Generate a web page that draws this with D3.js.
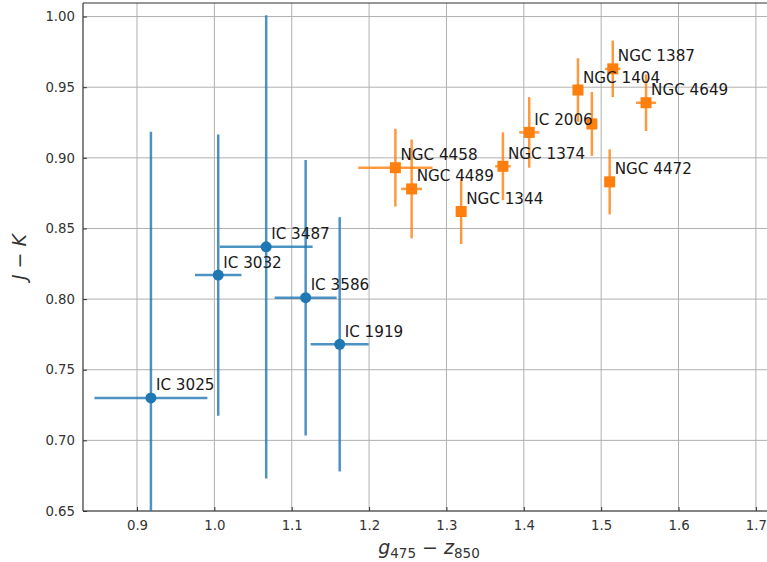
<!DOCTYPE html>
<html>
<head>
<meta charset="utf-8">
<script src="https://cdn.jsdelivr.net/npm/d3@7"></script>
<style>
  html, body { margin: 0; padding: 0; background: #fff; }
  svg { display: block; font-family: "DejaVu Sans", sans-serif; }
</style>
</head>
<body>
<svg id="chart" width="767" height="562"></svg>
<script>
// Colour–colour data: g475 − z850 against J − K
const icNames   = ["IC 3025", "IC 3032", "IC 3487", "IC 3586", "IC 1919"];
const icGZ      = [0.918, 1.005, 1.067, 1.118, 1.162];
const icGZErr   = [0.073, 0.030, 0.060, 0.040, 0.0375];
const icJK      = [0.730, 0.817, 0.837, 0.801, 0.768];
const icJKErr   = [0.1885, 0.0995, 0.164, 0.0975, 0.090];

const ngcNames  = ["NGC 4458", "NGC 4489", "NGC 1344", "NGC 1374", "IC 2006", "NGC 1404", "", "NGC 4472", "NGC 1387", "NGC 4649"];
const ngcGZ     = [1.234, 1.255, 1.319, 1.373, 1.407, 1.470, 1.488, 1.511, 1.515, 1.558];
const ngcGZErr  = [0.048, 0.0135, 0.006, 0.010, 0.013, 0.006, 0.005, 0.005, 0.010, 0.013];
const ngcJK     = [0.893, 0.878, 0.862, 0.894, 0.918, 0.948, 0.924, 0.883, 0.963, 0.939];
const ngcJKErr  = [0.0275, 0.035, 0.023, 0.024, 0.025, 0.0225, 0.0226, 0.023, 0.020, 0.020];

const xTicks = [0.9, 1.0, 1.1, 1.2, 1.3, 1.4, 1.5, 1.6, 1.7];
const yTicks = [0.65, 0.70, 0.75, 0.80, 0.85, 0.90, 0.95, 1.00];

const W = 767, H = 562;
const margin = { left: 83, top: 3, right: -8, bottom: 51 };
const plotW = W - margin.left - margin.right;
const plotH = H - margin.top - margin.bottom;

const x = d3.scaleLinear().domain([0.8302, 1.7247]).range([0, plotW]);
const y = d3.scaleLinear().domain([0.65, 1.0096]).range([plotH, 0]);

const svg = d3.select("#chart");
const g = svg.append("g").attr("transform", `translate(${margin.left},${margin.top})`);

g.append("clipPath").attr("id", "plot-clip")
  .append("rect").attr("width", plotW).attr("height", plotH);

// grid
g.append("g").selectAll("line").data(xTicks).join("line")
  .attr("x1", d => x(d)).attr("x2", d => x(d))
  .attr("y1", 0).attr("y2", plotH)
  .attr("stroke", "#b0b0b0").attr("stroke-width", 1);
g.append("g").selectAll("line").data(yTicks).join("line")
  .attr("x1", 0).attr("x2", plotW)
  .attr("y1", d => y(d)).attr("y2", d => y(d))
  .attr("stroke", "#b0b0b0").attr("stroke-width", 1);

// axes with inward ticks
const xAxis = g.append("g").attr("transform", `translate(0,${plotH})`)
  .call(d3.axisBottom(x).tickValues(xTicks).tickFormat(d3.format(".1f")).tickSizeInner(-4).tickSizeOuter(0).tickPadding(10));
const yAxis = g.append("g")
  .call(d3.axisLeft(y).tickValues(yTicks).tickFormat(d3.format(".2f")).tickSizeInner(-4).tickSizeOuter(0).tickPadding(8));
[xAxis, yAxis].forEach(a => {
  a.select(".domain").remove();
  a.selectAll(".tick line").attr("stroke", "#333").attr("stroke-width", 1);
  a.selectAll(".tick text").attr("fill", "#333").style("font-size", "13.3px")
    .style("font-family", "'DejaVu Sans', sans-serif");
});

// spines: left, bottom, top
const spine = g.append("g").attr("stroke", "#333").attr("stroke-width", 1.2).attr("fill", "none");
spine.append("line").attr("x1", 0).attr("x2", 0).attr("y1", 0).attr("y2", plotH);
spine.append("line").attr("x1", 0).attr("x2", plotW).attr("y1", plotH).attr("y2", plotH);
spine.append("line").attr("x1", 0).attr("x2", plotW).attr("y1", 0).attr("y2", 0);

const layer = g.append("g").attr("clip-path", "url(#plot-clip)");

function series(names, gz, gzErr, jk, jkErr, color, shape) {
  const data = names.map((n, i) => ({ n, gx: gz[i], ex: gzErr[i], jy: jk[i], ey: jkErr[i] }));
  const bars = layer.append("g").attr("stroke", color).attr("stroke-opacity", 0.8).attr("stroke-width", 2.5);
  bars.selectAll(".v").data(data).join("line")
    .attr("x1", d => x(d.gx)).attr("x2", d => x(d.gx))
    .attr("y1", d => y(d.jy - d.ey)).attr("y2", d => y(d.jy + d.ey));
  bars.selectAll(".h").data(data).join("line")
    .attr("x1", d => x(d.gx - d.ex)).attr("x2", d => x(d.gx + d.ex))
    .attr("y1", d => y(d.jy)).attr("y2", d => y(d.jy));
  const marks = layer.append("g").attr("fill", color);
  if (shape === "circle") {
    marks.selectAll("circle").data(data).join("circle")
      .attr("cx", d => x(d.gx)).attr("cy", d => y(d.jy)).attr("r", 5.5);
  } else {
    marks.selectAll("rect").data(data).join("rect")
      .attr("x", d => x(d.gx) - 5.5).attr("y", d => y(d.jy) - 5.5)
      .attr("width", 11).attr("height", 11);
  }
  return data;
}

const icData = series(icNames, icGZ, icGZErr, icJK, icJKErr, "#1f77b4", "circle");
const ngcData = series(ngcNames, ngcGZ, ngcGZErr, ngcJK, ngcJKErr, "#ff7f0e", "square");

// galaxy labels
g.append("g").selectAll("text").data(icData.concat(ngcData).filter(d => d.n)).join("text")
  .attr("x", d => x(d.gx) + 5).attr("y", d => y(d.jy) - 7.5)
  .attr("fill", "#1a1a1a").style("font-size", "15.2px")
  .text(d => d.n);

// axis titles
const xl = svg.append("text")
  .attr("x", margin.left + plotW / 2).attr("y", 554)
  .attr("text-anchor", "middle").attr("fill", "#333").style("font-size", "19px");
xl.append("tspan").attr("font-style", "italic").text("g");
xl.append("tspan").attr("dy", 3.5).style("font-size", "13.5px").text("475");
xl.append("tspan").attr("dy", -3.5).text(" − ");
xl.append("tspan").attr("font-style", "italic").text("z");
xl.append("tspan").attr("dy", 3.5).style("font-size", "13.5px").text("850");

const yl = svg.append("text")
  .attr("transform", `translate(26,${margin.top + plotH / 2}) rotate(-90)`)
  .attr("text-anchor", "middle").attr("fill", "#333").style("font-size", "19px");
yl.append("tspan").attr("font-style", "italic").text("J");
yl.append("tspan").text(" − ");
yl.append("tspan").attr("font-style", "italic").text("K");
</script>
</body>
</html>
